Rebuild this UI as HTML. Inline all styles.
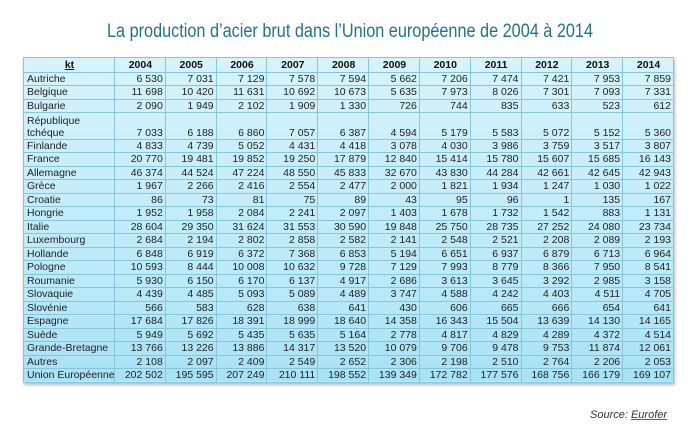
<!DOCTYPE html>
<html><head><meta charset="utf-8"><style>
body{margin:0;width:700px;height:431px;background:#fff;overflow:hidden;font-family:"Liberation Sans",Arial,sans-serif;position:relative}
svg.t{position:absolute;left:0;top:0}
table{position:absolute;left:23px;top:57px;border-collapse:collapse;table-layout:fixed;width:651px;background:linear-gradient(to bottom,#d6f3fb,#b9e9f8 70%,#a8e2f5);box-shadow:1px 2px 3px #bbb}
td{border:1px solid #86c6d8;font-size:10.5px;color:#222;padding:0 2px 0 3px;height:12.5px;line-height:12px;text-align:right;white-space:nowrap;overflow:hidden}
td:first-child{text-align:left;width:85px}
tr.h td{font-weight:bold;text-align:center;color:#111;height:13.5px}
tr.d td{vertical-align:bottom;height:25.5px}
tr.d td:first-child{white-space:normal;line-height:12px}
.src{position:absolute;left:590px;top:409px;font-size:11px;font-style:italic;color:#333}
.src u{text-decoration-color:#c33}
</style></head><body>
<svg class="t" width="700" height="50"><text x="350" y="37" text-anchor="middle" font-family="Liberation Sans, Arial, sans-serif" font-size="19" fill="#22728f" textLength="486" lengthAdjust="spacingAndGlyphs">La production d’acier brut dans l’Union européenne de 2004 à 2014</text></svg>
<table>
<tr class="h"><td style="text-align:center"><u>kt</u></td><td>2004</td><td>2005</td><td>2006</td><td>2007</td><td>2008</td><td>2009</td><td>2010</td><td>2011</td><td>2012</td><td>2013</td><td>2014</td></tr>
<tr><td>Autriche</td><td>6 530</td><td>7 031</td><td>7 129</td><td>7 578</td><td>7 594</td><td>5 662</td><td>7 206</td><td>7 474</td><td>7 421</td><td>7 953</td><td>7 859</td></tr>
<tr><td>Belgique</td><td>11 698</td><td>10 420</td><td>11 631</td><td>10 692</td><td>10 673</td><td>5 635</td><td>7 973</td><td>8 026</td><td>7 301</td><td>7 093</td><td>7 331</td></tr>
<tr><td>Bulgarie</td><td>2 090</td><td>1 949</td><td>2 102</td><td>1 909</td><td>1 330</td><td>726</td><td>744</td><td>835</td><td>633</td><td>523</td><td>612</td></tr>
<tr class="d"><td>République tchéque</td><td>7 033</td><td>6 188</td><td>6 860</td><td>7 057</td><td>6 387</td><td>4 594</td><td>5 179</td><td>5 583</td><td>5 072</td><td>5 152</td><td>5 360</td></tr>
<tr><td>Finlande</td><td>4 833</td><td>4 739</td><td>5 052</td><td>4 431</td><td>4 418</td><td>3 078</td><td>4 030</td><td>3 986</td><td>3 759</td><td>3 517</td><td>3 807</td></tr>
<tr><td>France</td><td>20 770</td><td>19 481</td><td>19 852</td><td>19 250</td><td>17 879</td><td>12 840</td><td>15 414</td><td>15 780</td><td>15 607</td><td>15 685</td><td>16 143</td></tr>
<tr><td>Allemagne</td><td>46 374</td><td>44 524</td><td>47 224</td><td>48 550</td><td>45 833</td><td>32 670</td><td>43 830</td><td>44 284</td><td>42 661</td><td>42 645</td><td>42 943</td></tr>
<tr><td>Grèce</td><td>1 967</td><td>2 266</td><td>2 416</td><td>2 554</td><td>2 477</td><td>2 000</td><td>1 821</td><td>1 934</td><td>1 247</td><td>1 030</td><td>1 022</td></tr>
<tr><td>Croatie</td><td>86</td><td>73</td><td>81</td><td>75</td><td>89</td><td>43</td><td>95</td><td>96</td><td>1</td><td>135</td><td>167</td></tr>
<tr><td>Hongrie</td><td>1 952</td><td>1 958</td><td>2 084</td><td>2 241</td><td>2 097</td><td>1 403</td><td>1 678</td><td>1 732</td><td>1 542</td><td>883</td><td>1 131</td></tr>
<tr><td>Italie</td><td>28 604</td><td>29 350</td><td>31 624</td><td>31 553</td><td>30 590</td><td>19 848</td><td>25 750</td><td>28 735</td><td>27 252</td><td>24 080</td><td>23 734</td></tr>
<tr><td>Luxembourg</td><td>2 684</td><td>2 194</td><td>2 802</td><td>2 858</td><td>2 582</td><td>2 141</td><td>2 548</td><td>2 521</td><td>2 208</td><td>2 089</td><td>2 193</td></tr>
<tr><td>Hollande</td><td>6 848</td><td>6 919</td><td>6 372</td><td>7 368</td><td>6 853</td><td>5 194</td><td>6 651</td><td>6 937</td><td>6 879</td><td>6 713</td><td>6 964</td></tr>
<tr><td>Pologne</td><td>10 593</td><td>8 444</td><td>10 008</td><td>10 632</td><td>9 728</td><td>7 129</td><td>7 993</td><td>8 779</td><td>8 366</td><td>7 950</td><td>8 541</td></tr>
<tr><td>Roumanie</td><td>5 930</td><td>6 150</td><td>6 170</td><td>6 137</td><td>4 917</td><td>2 686</td><td>3 613</td><td>3 645</td><td>3 292</td><td>2 985</td><td>3 158</td></tr>
<tr><td>Slovaquie</td><td>4 439</td><td>4 485</td><td>5 093</td><td>5 089</td><td>4 489</td><td>3 747</td><td>4 588</td><td>4 242</td><td>4 403</td><td>4 511</td><td>4 705</td></tr>
<tr><td>Slovénie</td><td>566</td><td>583</td><td>628</td><td>638</td><td>641</td><td>430</td><td>606</td><td>665</td><td>666</td><td>654</td><td>641</td></tr>
<tr><td>Espagne</td><td>17 684</td><td>17 826</td><td>18 391</td><td>18 999</td><td>18 640</td><td>14 358</td><td>16 343</td><td>15 504</td><td>13 639</td><td>14 130</td><td>14 165</td></tr>
<tr><td>Suède</td><td>5 949</td><td>5 692</td><td>5 435</td><td>5 635</td><td>5 164</td><td>2 778</td><td>4 817</td><td>4 829</td><td>4 289</td><td>4 372</td><td>4 514</td></tr>
<tr><td>Grande-Bretagne</td><td>13 766</td><td>13 226</td><td>13 886</td><td>14 317</td><td>13 520</td><td>10 079</td><td>9 706</td><td>9 478</td><td>9 753</td><td>11 874</td><td>12 061</td></tr>
<tr><td>Autres</td><td>2 108</td><td>2 097</td><td>2 409</td><td>2 549</td><td>2 652</td><td>2 306</td><td>2 198</td><td>2 510</td><td>2 764</td><td>2 206</td><td>2 053</td></tr>
<tr><td>Union Européenne</td><td>202 502</td><td>195 595</td><td>207 249</td><td>210 111</td><td>198 552</td><td>139 349</td><td>172 782</td><td>177 576</td><td>168 756</td><td>166 179</td><td>169 107</td></tr>
</table>
<div class="src">Source: <u>Eurofer</u></div>
</body></html>
